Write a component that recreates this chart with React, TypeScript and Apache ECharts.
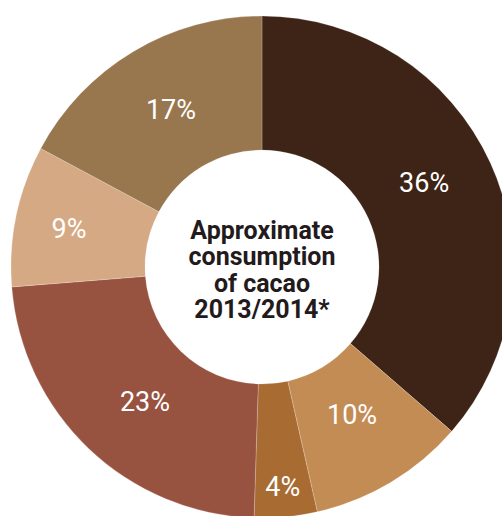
import React, { useEffect, useRef } from "react";
import * as echarts from "echarts";

const categories = ["A", "B", "C", "D", "E", "F"];
const values = [36, 10, 4, 23, 9, 17];
const colors = ["#3d2416", "#c48c55", "#a86c33", "#985240", "#d6a985", "#98774f"];
const centerLines = ["Approximate", "consumption", "of cacao", "2013/2014*"];
// small label nudges (px) relative to the default inside position
const labelNudges: [number, number][] = [
  [-8, -6],
  [-6, -12],
  [3, 34],
  [12, 0],
  [-10, 0],
  [5, 3],
];

export default function App() {
  const ref = useRef<HTMLDivElement>(null);
  useEffect(() => {
    if (!ref.current) return;
    const chart = echarts.init(ref.current, undefined, { renderer: "svg" });
    const data = values.map((v, i) => ({
      name: categories[i],
      value: v,
      itemStyle: { color: colors[i] },
    }));
    chart.setOption({
      animation: false,
      backgroundColor: "#ffffff",
      series: [
        {
          type: "pie",
          center: [262, 267],
          radius: [117, 251],
          startAngle: 90,
          clockwise: true,
          avoidLabelOverlap: false,
          itemStyle: { borderColor: "rgba(255,255,255,0.35)", borderWidth: 0.6 },
          label: {
            show: true,
            position: "inside",
            formatter: "{c}%",
            color: "#ffffff",
            fontFamily: "Roboto",
            fontSize: 27,
            fontWeight: "normal",
          },
          labelLayout: (p: any) => ({
            dx: labelNudges[p.dataIndex][0],
            dy: labelNudges[p.dataIndex][1],
          }),
          labelLine: { show: false },
          emphasis: { disabled: true },
          data,
        },
      ],
      graphic: [
        {
          type: "text",
          x: 262,
          y: 270,
          style: {
            text: centerLines.join("\n"),
            fill: "#231a1c",
            font: "bold 25px Roboto",
            lineHeight: 26.5,
            align: "center",
            verticalAlign: "middle",
          },
        },
      ],
    });
    return () => chart.dispose();
  }, []);
  return (
    <div
      ref={ref}
      style={{ position: "fixed", left: 0, top: 0, width: 502, height: 516 }}
    />
  );
}
